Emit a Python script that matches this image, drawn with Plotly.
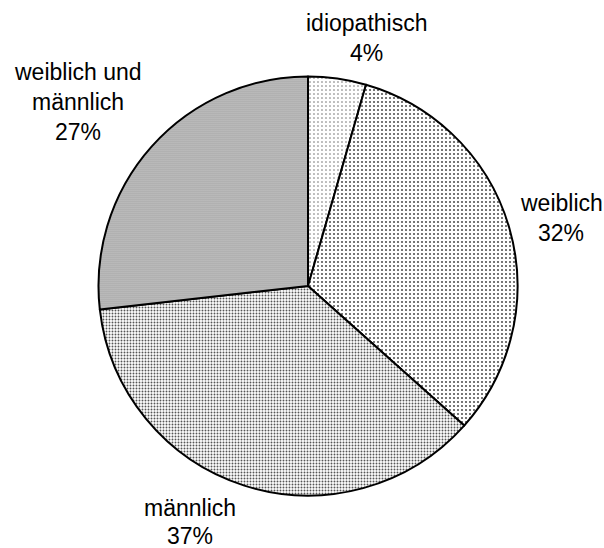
import plotly.graph_objects as go

# ---- data ----
categories = ["idiopathisch", "weiblich", "männlich", "weiblich und männlich"]
values = [5, 36, 41, 30]

# label text lines per slice (category name split as in the chart)
label_lines = [["idiopathisch"], ["weiblich"], ["männlich"], ["weiblich und", "männlich"]]

# ---- layout / style (positions in pixels of the 604x548 canvas) ----
W, H = 604, 548
CX, CY, R = 308, 286, 209.5
label_pos = [(366, 23), (561, 203), (190, 508), (78, 72)]  # centre x, first line centre y
LINE_GAP = [30, 30, 28, 30]

pattern_size = [4, 4, 3, 2]
pattern_solidity = [0.12, 0.22, 0.32, 0.55]
pattern_fg = ["#666666", "#555555", "#555555", "#888888"]
pattern_bg = ["#ffffff", "#ffffff", "#ffffff", "#e0e0e0"]

fig = go.Figure(
    go.Pie(
        labels=categories,
        values=values,
        sort=False,
        direction="clockwise",
        rotation=0,
        textinfo="none",
        hoverinfo="label+percent",
        showlegend=False,
        marker=dict(
            colors=["#ffffff"] * 4,
            line=dict(color="black", width=2),
            pattern=dict(
                shape=["."] * 4,
                size=pattern_size,
                solidity=pattern_solidity,
                fgcolor=pattern_fg,
                bgcolor=pattern_bg,
                fillmode="replace",
            ),
        ),
        domain=dict(
            x=[(CX - R) / W, (CX + R) / W],
            y=[(H - CY - R) / H, (H - CY + R) / H],
        ),
    )
)

total = sum(values)
annotations = []
for lines, v, (px, py), gap in zip(label_lines, values, label_pos, LINE_GAP):
    all_lines = lines + [f"{round(v / total * 100)}%"]
    for i, t in enumerate(all_lines):
        annotations.append(
            dict(
                text=t,
                x=px / W,
                y=1 - (py + i * gap) / H,
                xref="paper",
                yref="paper",
                xanchor="center",
                yanchor="middle",
                showarrow=False,
                font=dict(family="Liberation Sans, Arial, sans-serif", size=23, color="black"),
            )
        )

fig.update_layout(
    width=W,
    height=H,
    margin=dict(l=0, r=0, t=0, b=0),
    paper_bgcolor="white",
    plot_bgcolor="white",
    annotations=annotations,
)

fig.write_html(
    "out.html",
    config={"displayModeBar": False},
    post_script="document.body.style.margin='0';document.body.style.overflow='hidden';",
)
